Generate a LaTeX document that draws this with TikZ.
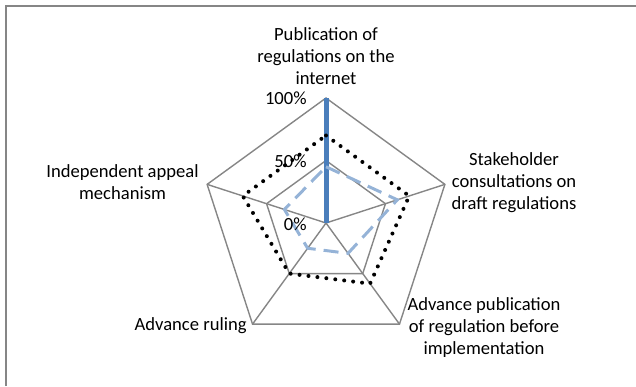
\documentclass[tikz,border=0pt]{standalone}
\usepackage{fontspec}
\setmainfont{Carlito}
\usetikzlibrary{positioning,calc}
\definecolor{gridgray}{RGB}{134,134,134}
\definecolor{blue}{RGB}{74,126,187}
\definecolor{lightblue}{RGB}{149,179,215}
\tikzset{radargrid/.style={draw=gridgray,line width=0.7pt,line join=miter}}
\tikzset{blueseries/.style={draw=blue,line width=2.5pt}}
\tikzset{dashseries/.style={draw=lightblue,line width=1.5pt,dash pattern=on 7.5pt off 4pt}}
\tikzset{dotseries/.style={draw=black,line width=2pt,line cap=round,dash pattern=on 0pt off 4.5pt}}
\tikzset{lbl/.style={align=center,inner sep=0pt,font=\fontsize{9.3}{11}\selectfont}}

\begin{document}
\begin{tikzpicture}[x=0.5pt,y=0.5pt]
    \useasboundingbox (0,0) rectangle (636,386);
    \draw [gridgray,line width=1pt] (6,0) -- (6,380) -- (636,380);
    \begin{scope}[shift={(326,163)}]
        \foreach \a [count=\i] in {90,18,-54,-126,162} {
            \coordinate (v\i) at (\a:125);
            \coordinate (h\i) at (\a:62.5);
            \draw [radargrid] (0,0) -- (v\i);
        }
        \coordinate (orig) at (0,0);
        \draw [radargrid] (v1) -- (v2) -- (v3) -- (v4) -- (v5) -- cycle;
        \draw [radargrid] (h1) -- (h2) -- (h3) -- (h4) -- (h5) -- cycle;
        \draw [blueseries] (orig) -- (v1);
        \draw [dashseries] (90:56.25) -- (18:75) -- (-54:37.5) -- (-126:31.25) -- (162:43.75) -- cycle;
        \draw [dotseries] (90:87.5) -- (18:87.5) -- (-54:75) -- (-126:62.5) -- (162:87.5) -- cycle;
        \node[lbl,anchor=east] (t100) at (-19,125) {100\%};
        \node[lbl,anchor=east] (t50) at (-19,62) {50\%};
        \node[lbl,anchor=east] (t0) at (-19,-1) {0\%};
        \node[lbl] (pub) at (0,167) {Publication of\\regulations on the\\internet};
        \node[lbl] (stake) at (188,40) {Stakeholder\\consultations on\\draft regulations};
        \node[lbl] (adpub) at (158,-105) {Advance publication\\of regulation before\\implementation};
        \node[lbl,anchor=east] (ruling) at (-79,-103) {Advance ruling};
        \node[lbl] (appeal) at (-203.5,41) {Independent appeal\\mechanism};
    \end{scope}
\end{tikzpicture}
\end{document}
